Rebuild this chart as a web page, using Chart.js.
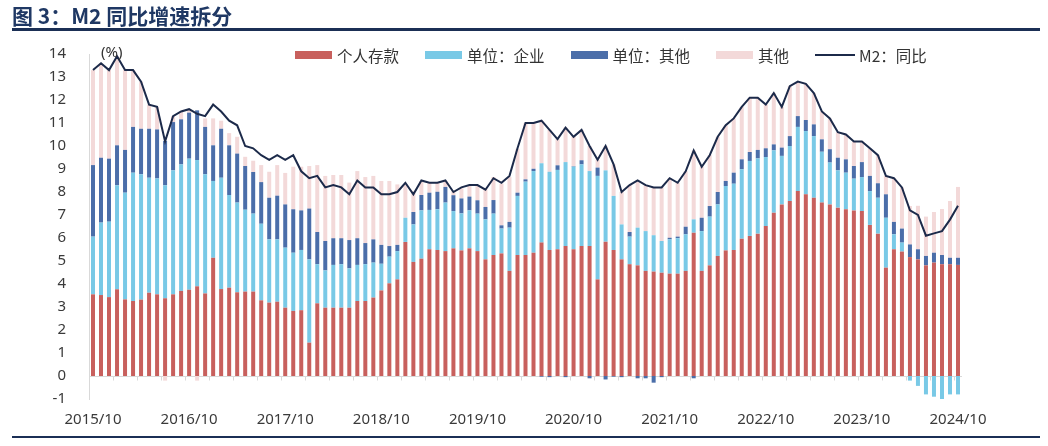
<!DOCTYPE html>
<html>
<head>
<meta charset="utf-8">
<script src="https://cdn.jsdelivr.net/npm/chart.js@4.4.1/dist/chart.umd.min.js"></script>
<style>
  html, body { margin: 0; padding: 0; background: #ffffff; }
  #wrap { position: relative; width: 1048px; height: 446px; overflow: hidden; background: #fff; }
  #title { position: absolute; left: 12px; top: 3px; font: bold 21px/24px "Noto Sans CJK SC", sans-serif; color: #1f3864; white-space: nowrap; }
  #topRule { position: absolute; left: 12px; right: 8px; top: 28px; height: 3px; background: #1b2f55; }
  #bottomRule { position: absolute; left: 12px; right: 8px; top: 436px; height: 2px; background: #1b2f55; }
  #unit { position: absolute; left: 101px; top: 42px; font: 15px/18px "Noto Sans", sans-serif; color: #333; }
  #legend { position: absolute; left: 295px; top: 46px; display: flex; align-items: center; height: 18px; font: 15.5px/18px "Noto Sans CJK SC", sans-serif; color: #333; white-space: nowrap; }
  .item { display: flex; align-items: center; margin-right: 26px; }
  .box { width: 37px; height: 8px; margin-right: 5px; }
  .ln { width: 40px; height: 2px; margin-right: 4px; }
  canvas { position: absolute; left: 0; top: 0; }
</style>
</head>
<body>
<div id="wrap">
  <canvas id="c" width="1048" height="446"></canvas>
  <div id="title">图 3：M2 同比增速拆分</div>
  <div id="topRule"></div>
  <div id="bottomRule"></div>
  <div id="unit">(%)</div>
  <div id="legend"></div>
</div>
<script>
// Month categories, 2015/10 – 2024/10
const categories = [
  '2015/10','2015/11','2015/12',
  '2016/01','2016/02','2016/03','2016/04','2016/05','2016/06','2016/07','2016/08','2016/09','2016/10','2016/11','2016/12',
  '2017/01','2017/02','2017/03','2017/04','2017/05','2017/06','2017/07','2017/08','2017/09','2017/10','2017/11','2017/12',
  '2018/01','2018/02','2018/03','2018/04','2018/05','2018/06','2018/07','2018/08','2018/09','2018/10','2018/11','2018/12',
  '2019/01','2019/02','2019/03','2019/04','2019/05','2019/06','2019/07','2019/08','2019/09','2019/10','2019/11','2019/12',
  '2020/01','2020/02','2020/03','2020/04','2020/05','2020/06','2020/07','2020/08','2020/09','2020/10','2020/11','2020/12',
  '2021/01','2021/02','2021/03','2021/04','2021/05','2021/06','2021/07','2021/08','2021/09','2021/10','2021/11','2021/12',
  '2022/01','2022/02','2022/03','2022/04','2022/05','2022/06','2022/07','2022/08','2022/09','2022/10','2022/11','2022/12',
  '2023/01','2023/02','2023/03','2023/04','2023/05','2023/06','2023/07','2023/08','2023/09','2023/10','2023/11','2023/12',
  '2024/01','2024/02','2024/03','2024/04','2024/05','2024/06','2024/07','2024/08','2024/09','2024/10'
];

// Tick labels shown on the x axis
const xTickLabels = ['2015/10','2016/10','2017/10','2018/10','2019/10','2020/10','2021/10','2022/10','2023/10','2024/10'];

// 个人存款
const personalDeposits = [
  3.55,3.52,3.43,3.77,3.33,3.26,3.32,3.62,3.55,3.38,
  3.55,3.70,3.75,3.90,3.59,5.14,3.78,3.84,3.64,3.67,
  3.67,3.29,3.19,3.23,2.97,2.83,2.86,1.45,3.16,2.97,
  2.97,2.97,2.97,3.26,3.26,3.41,3.72,4.03,4.20,5.83,
  4.96,5.10,5.51,5.48,5.43,5.55,5.46,5.55,5.43,5.07,
  5.26,5.33,4.57,5.26,5.26,5.36,5.80,5.48,5.51,5.65,
  5.51,5.65,5.65,4.20,5.84,5.48,5.07,4.86,4.81,4.57,
  4.54,4.49,4.45,4.45,4.57,6.23,4.57,4.81,5.22,5.46,
  5.48,5.97,6.09,6.19,6.52,7.10,7.46,7.61,8.04,7.90,
  7.75,7.54,7.46,7.32,7.25,7.20,7.17,6.57,6.19,4.71,
  5.51,5.41,5.17,5.07,4.81,4.93,4.86,4.86,4.83
];

// 单位：企业
const corpEnterprise = [
  2.51,3.15,3.28,4.52,4.64,5.58,5.45,5.00,5.04,4.91,
  5.39,5.50,5.70,5.49,5.18,3.34,4.84,4.03,3.90,3.56,
  3.39,3.33,2.75,2.71,2.61,2.53,2.62,3.62,1.70,1.62,
  1.86,1.89,1.71,1.57,1.60,1.52,1.16,1.16,1.23,1.05,
  1.63,2.10,1.71,1.77,2.11,1.62,1.61,1.65,1.63,1.74,
  1.80,1.08,1.88,2.57,3.19,3.55,3.45,3.40,3.45,3.65,
  3.59,3.55,3.26,4.50,3.10,2.35,1.52,1.20,1.64,1.73,
  1.58,1.38,1.49,1.54,1.59,0.58,1.73,2.12,2.24,2.80,
  2.88,3.02,3.26,3.27,3.00,2.71,2.11,2.39,2.79,2.75,
  2.68,2.21,1.82,1.62,1.59,1.38,1.48,1.47,1.56,2.17,
  0.65,0.39,-0.20,-0.43,-0.80,-0.90,-1.00,-0.80,-0.80
];

// 单位：其他
const corpOther = [
  3.11,2.82,2.74,1.74,1.86,1.99,1.98,2.13,2.13,1.93,
  2.10,1.96,2.00,2.16,2.06,1.55,2.13,2.16,2.13,1.90,
  1.81,1.81,1.81,1.90,1.88,1.89,1.72,2.21,1.40,1.28,
  1.16,1.13,1.23,1.16,0.92,1.01,0.82,0.46,0.27,0.00,
  0.54,0.67,0.75,0.76,0.68,0.69,0.65,0.60,0.58,0.54,
  0.59,0.14,0.25,0.14,0.10,0.10,-0.03,-0.05,0.20,-0.05,
  0.02,0.18,-0.10,0.36,-0.15,-0.03,-0.05,0.20,-0.10,-0.10,
  -0.29,-0.05,0.07,0.07,0.33,-0.10,0.58,0.46,0.54,0.22,
  0.48,0.43,0.39,0.37,0.38,0.26,0.36,0.43,0.47,0.48,
  0.51,0.54,0.58,0.55,0.58,0.55,0.65,0.66,0.63,1.02,
  0.54,0.61,0.55,0.44,0.41,0.43,0.40,0.28,0.31
];

// 其他
const others = [
  4.13,4.11,3.85,3.87,3.47,2.47,2.05,1.05,0.98,-0.20,
  0.26,0.34,0.15,-0.20,0.37,1.17,0.35,0.53,0.73,0.40,
  0.49,0.74,1.13,1.33,1.37,1.85,1.90,1.85,2.91,2.83,
  2.75,2.75,2.50,2.92,2.87,2.76,2.78,2.83,2.63,1.45,
  0.91,0.61,0.44,0.42,0.26,0.18,0.44,0.49,0.62,0.79,
  1.00,1.81,1.95,1.91,2.45,1.99,1.85,1.82,1.14,1.50,
  1.30,1.32,1.09,0.34,1.06,1.37,1.41,2.04,2.05,2.00,
  2.08,2.33,2.59,2.34,2.41,2.99,2.22,2.21,2.40,2.42,
  2.36,2.28,2.36,2.27,1.90,2.23,1.77,2.17,1.50,1.57,
  1.36,1.21,1.34,1.11,1.08,1.07,0.90,1.20,1.22,0.80,
  1.90,1.79,1.67,1.89,1.71,1.77,2.00,2.47,3.08
];

// M2：同比
const m2YoY = [
  13.3,13.6,13.3,13.9,13.3,13.3,12.8,11.8,11.7,10.2,
  11.3,11.5,11.6,11.4,11.3,11.8,11.5,11.1,10.9,10.0,
  9.9,9.6,9.4,9.6,9.4,9.6,8.9,8.6,8.7,8.2,
  8.3,8.2,7.9,8.5,8.2,8.2,7.9,7.9,8.0,8.4,
  7.9,8.5,8.4,8.4,8.5,8.0,8.2,8.3,8.3,8.1,
  8.6,8.4,8.7,9.9,11.0,11.0,11.1,10.7,10.3,10.8,
  10.4,10.7,10.0,9.4,10.0,9.2,8.0,8.3,8.5,8.3,
  8.2,8.2,8.6,8.4,8.9,9.8,9.1,9.6,10.4,10.9,
  11.2,11.7,12.1,12.1,11.8,12.3,11.7,12.6,12.8,12.7,
  12.3,11.5,11.2,10.6,10.5,10.2,10.2,9.9,9.6,8.7,
  8.6,8.2,7.2,7.0,6.1,6.2,6.3,6.8,7.4
];

const seriesNames = ['个人存款','单位：企业','单位：其他','其他','M2：同比'];
const seriesColors = ['#c8605d','#79c9e6','#4b6ea9','#f3d9d9','#1c2a4a'];

const zeroLine = {
  id: 'zeroLine',
  beforeDatasetsDraw(chart) {
    const { ctx, chartArea, scales } = chart;
    const x = scales.x, y = scales.y;
    const y0 = Math.round(y.getPixelForValue(0)) + 0.5;
    const half = (x.getPixelForValue(1) - x.getPixelForValue(0)) / 2;
    ctx.save();
    ctx.strokeStyle = '#d9d9d9';
    ctx.lineWidth = 1;
    ctx.beginPath();
    ctx.moveTo(chartArea.left, y0);
    ctx.lineTo(chartArea.right, y0);
    for (let i = 0; i < categories.length; i += 3) {
      const px = Math.round(x.getPixelForValue(i) - half) + 0.5;
      ctx.moveTo(px, y0);
      ctx.lineTo(px, y0 + 4);
    }
    ctx.stroke();
    ctx.restore();
  }
};

const barDefaults = { stack: 'parts', categoryPercentage: 1.0, barPercentage: 0.5, borderWidth: 0, order: 1 };

new Chart(document.getElementById('c'), {
  data: {
    labels: categories,
    datasets: [
      Object.assign({ type: 'bar', label: seriesNames[0], data: personalDeposits, backgroundColor: seriesColors[0] }, barDefaults),
      Object.assign({ type: 'bar', label: seriesNames[1], data: corpEnterprise, backgroundColor: seriesColors[1] }, barDefaults),
      Object.assign({ type: 'bar', label: seriesNames[2], data: corpOther, backgroundColor: seriesColors[2] }, barDefaults),
      Object.assign({ type: 'bar', label: seriesNames[3], data: others, backgroundColor: seriesColors[3] }, barDefaults),
      { type: 'line', label: seriesNames[4], data: m2YoY, borderColor: seriesColors[4], borderWidth: 2,
        pointRadius: 0, tension: 0, fill: false, stack: 'm2', order: 0 }
    ]
  },
  options: {
    responsive: false,
    devicePixelRatio: 1,
    animation: false,
    layout: { padding: { top: 54, right: 86, bottom: 0, left: 0 } },
    plugins: { legend: { display: false }, tooltip: { enabled: false }, title: { display: false } },
    scales: {
      x: {
        stacked: true,
        grid: { display: false },
        border: { display: false },
        ticks: {
          autoSkip: false, maxRotation: 0, minRotation: 0, padding: 4,
          color: '#3a3a3a', font: { family: 'Noto Sans', size: 15 },
          callback: function(v, i) { const l = categories[i]; return xTickLabels.includes(l) ? l : null; }
        },
        afterFit: (s) => { s.height = 47; }
      },
      y: {
        stacked: true,
        min: -1, max: 14,
        grid: { display: false },
        border: { display: true, color: '#d9d9d9', width: 1 },
        ticks: { stepSize: 1, padding: 15, color: '#3a3a3a', font: { family: 'Noto Sans', size: 15 } },
        afterFit: (s) => { s.width = 89; }
      }
    }
  },
  plugins: [zeroLine]
});

// HTML legend built from the series names and colours
const legend = document.getElementById('legend');
seriesNames.forEach((name, i) => {
  const item = document.createElement('div');
  item.className = 'item';
  const sw = document.createElement('span');
  sw.className = i === 4 ? 'ln' : 'box';
  sw.style.background = seriesColors[i];
  const tx = document.createElement('span');
  tx.textContent = name;
  item.appendChild(sw);
  item.appendChild(tx);
  legend.appendChild(item);
});
</script>
</body>
</html>
